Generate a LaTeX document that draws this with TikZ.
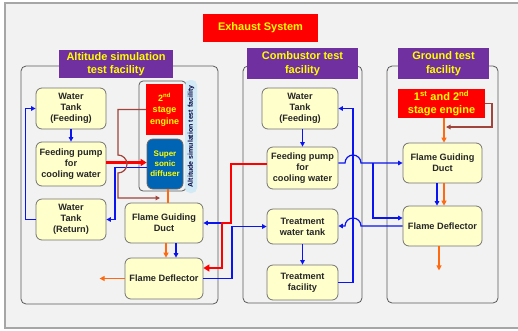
\documentclass[tikz,border=0pt]{standalone}
\usepackage{fontspec}
\setmainfont{Liberation Sans}
\usetikzlibrary{arrows.meta, positioning}

\definecolor{bgfill}{HTML}{F2F2F2}
\definecolor{boxfill}{HTML}{FFFFCC}
\definecolor{hdrpurple}{HTML}{7030A0}
\definecolor{tagyellow}{HTML}{FFFF00}
\definecolor{pipeblue}{HTML}{0A14F0}
\definecolor{pipered}{HTML}{FF0000}
\definecolor{pipeorange}{HTML}{FF6A10}
\definecolor{pipebrown}{HTML}{A0443C}
\definecolor{diffblue}{HTML}{0064B4}
\definecolor{sidelabel}{HTML}{D2EAF5}

\begin{document}
\begin{tikzpicture}[x=1pt, y=-1pt,
			box/.style={draw=black!55, line width=0.8pt, rounded corners=6pt, fill=boxfill, align=center, inner sep=0pt, text=black!85, font=\bfseries\fontsize{9.2}{11.2}\selectfont},
			panel/.style={draw=black!65, line width=0.8pt, rounded corners=5pt},
			header/.style={fill=hdrpurple, text=tagyellow, align=center, inner sep=0pt, font=\bfseries\fontsize{11}{13.5}\selectfont},
			engine/.style={fill=pipered, text=tagyellow, align=center, inner sep=0pt},
			sidetag/.style={fill=sidelabel, rounded corners=5pt, inner sep=0pt, text=black!75!blue, font=\bfseries\fontsize{7}{8}\selectfont},
			blueline/.style={draw=pipeblue, line width=1.2pt},
			bluearrow/.style={blueline, -{Triangle[length=4.5pt, width=4.5pt]}},
			redarrow/.style={draw=pipered, line width=2.2pt, -{Triangle[length=6pt, width=7pt]}},
			orangeline/.style={draw=pipeorange, line width=1.2pt},
			orangearrow/.style={orangeline, -{Triangle[length=5pt, width=5pt]}},
			brownarrow/.style={draw=pipebrown, line width=1.2pt, -{Triangle[length=4.5pt, width=4.5pt]}}
			]
			\useasboundingbox (0,0) rectangle (518,330);
			\fill[bgfill] (5,3) rectangle (519,328);
			\draw[black!35, line width=1.2pt] (5,3) rectangle (519,328);
			
			% --- Title ---
			\node[engine, minimum width=115, minimum height=28, font=\bfseries\fontsize{11}{13}\selectfont] (title) at (260.5,28) {Exhaust System};
			
			% --- Panels ---
			\draw[panel] (21,66) rectangle (218,304);
			\draw[panel] (243,66) rectangle (362,303);
			\draw[panel] (387,66) rectangle (498,303);
			\node[header, minimum width=114, minimum height=28] (hdralt) at (116,64) {Altitude simulation\\test facility};
			\node[header, minimum width=111, minimum height=31] (hdrcomb) at (302.5,63.5) {Combustor test\\facility};
			\node[header, minimum width=91, minimum height=31] (hdrgnd) at (443.5,63.5) {Ground test\\facility};
			
			% --- Altitude simulation test facility ---
			\draw[panel, rounded corners=4pt] (139,81) rectangle (186,191);
			\node[sidetag, minimum width=113, minimum height=12, rotate=90] (altlabel) at (191,136.5) {Altitude simulation test facility};
			\node[engine, minimum width=37, minimum height=51, font=\bfseries\fontsize{9}{11.5}\selectfont] (eng2) at (164.5,109.5) {2\textsuperscript{nd}\\stage\\engine};
			\node[draw=black!60, line width=0.8pt, fill=diffblue, rounded corners=6pt, text=tagyellow, align=center, inner sep=0pt, minimum width=36, minimum height=50, font=\bfseries\fontsize{8}{10}\selectfont] (ssd) at (165,164) {Super\\sonic\\diffuser};
			
			\node[box, minimum width=70, minimum height=41] (wtf) at (71,108.5) {Water\\Tank\\(Feeding)};
			\node[box, minimum width=70, minimum height=44] (fpl) at (71,164) {Feeding pump\\for\\cooling water};
			\node[box, minimum width=70, minimum height=41] (wtr) at (71,219.5) {Water\\Tank\\(Return)};
			\node[box, minimum width=78, minimum height=40] (fgdl) at (164,223) {Flame Guiding\\Duct};
			\node[box, minimum width=78, minimum height=41] (fdl) at (164,278.5) {Flame Deflector};
			
			% --- Combustor test facility ---
			\node[box, minimum width=76, minimum height=41] (wtfm) at (300,108.5) {Water\\Tank\\(Feeding)};
			\node[box, minimum width=71, minimum height=42] (fpm) at (302.5,168) {Feeding pump\\for\\cooling water};
			\node[box, minimum width=71, minimum height=35] (twt) at (302.5,226.5) {Treatment\\water tank};
			\node[box, minimum width=71, minimum height=35] (tf) at (302.5,282.5) {Treatment\\facility};
			
			% --- Ground test facility ---
			\node[engine, minimum width=87, minimum height=29, font=\bfseries\fontsize{11}{13}\selectfont] (eng12) at (441.5,103.5) {1\textsuperscript{st} and 2\textsuperscript{nd}\\stage engine};
			\node[box, minimum width=79, minimum height=40] (fgdr) at (442.5,163) {Flame Guiding\\Duct};
			\node[box, minimum width=79, minimum height=40] (fdr) at (442.5,226) {Flame Deflector};
			
			\coordinate (brownend) at (160,198);
			\coordinate (brownendr) at (446,127);
			
			% --- Arrows: altitude simulation ---
			\draw[bluearrow] (wtf.south) -- (fpl.north);
			\draw[bluearrow] (wtr.west) -- ++(-10,0) |- (wtf.west);
			\draw[redarrow] (fpl.east |- 0,162.5) -- (ssd.west |- 0,162.5);
			\draw[bluearrow] (ssd.west |- 0,167.5) -- (115,167.5) |- (wtr.east);
			\draw[brownarrow] (eng2.west) -- (118,109.5) -- (118,155)
			arc[start angle=90, end angle=-90, radius=9pt] -- (118,198) -- (brownend);
			\draw[orangeline] ([xshift=3pt]ssd.south) -- ([xshift=3pt]ssd.south |- fgdl.north);
			\draw[orangearrow] ([xshift=2pt]fgdl.south) -- ([xshift=2pt]fdl.north);
			\draw[bluearrow] ([xshift=12pt]fgdl.south) -- ([xshift=12pt]fdl.north);
			\draw[orangearrow] (fdl.west) -- ++(-25,0);
			
			% --- Cooling water between facilities ---
			\draw[bluearrow] (231,223) -- (fgdl.east);
			\draw[redarrow] (fpm.west |- 0,164) -| (231,223) -- (222,223) |- (fdl.east |- 0,268);
			\draw[bluearrow] (fdl.east) -- (232,278.5) |- (twt.west);
			
			% --- Arrows: combustor ---
			\draw[bluearrow] (fpm.north |- wtfm.south) -- (fpm.north);
			\draw[bluearrow] (twt.south) -- (tf.north);
			\draw[bluearrow] (tf.east) -- (353,282.5) |- (wtfm.east);
			\draw[bluearrow] (fpm.east |- fgdr.west) -- (345,163)
			arc[start angle=180, end angle=0, radius=8pt] -- (fgdr.west);
			\draw[bluearrow] (373,163) |- ([yshift=8pt]fdr.west);
			\draw[bluearrow] (fdr.west) -- (361,226)
			arc[start angle=0, end angle=180, radius=8pt] -- (twt.east |- fdr.west);
			
			% --- Arrows: ground test ---
			\draw[brownarrow] (eng12.east) -- (492,103.5) |- (brownendr);
			\draw[orangearrow] ([xshift=2.5pt]eng12.south) -- ([xshift=2.5pt]eng12.south |- fgdr.north);
			\draw[bluearrow] ([xshift=-5.5pt]fgdr.south) -- ([xshift=-5.5pt]fdr.north);
			\draw[orangearrow] ([xshift=1.5pt]fgdr.south) -- ([xshift=1.5pt]fdr.north);
			\draw[orangearrow] ([xshift=-3.5pt]fdr.south) -- ++(0,24);
			
	\end{tikzpicture}
\end{document}
